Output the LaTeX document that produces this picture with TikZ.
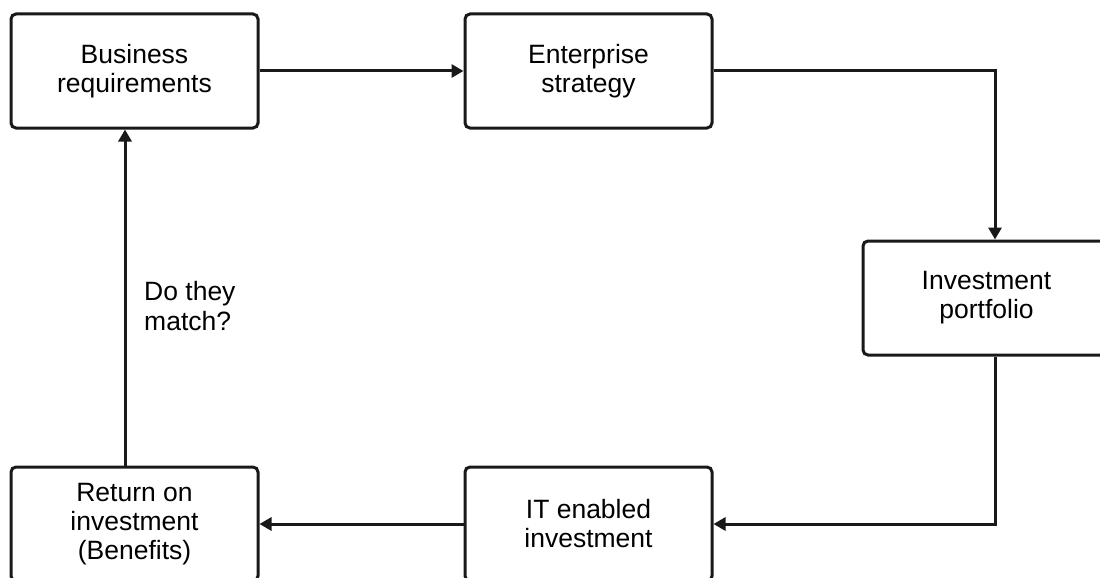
\documentclass[tikz,border=0pt]{standalone}
\usepackage{fontspec}
\setmainfont{Liberation Sans}
\usetikzlibrary{arrows.meta}

\begin{document}
\begin{tikzpicture}[x=1pt,y=-1pt,
  box/.style={draw=black!90, line width=3pt, rounded corners=5pt,
    minimum width=247pt, minimum height=114pt, align=center,
    inner sep=0pt, font=\fontsize{26.5}{29}\selectfont},
  arr/.style={draw=black!90, line width=3pt,
    -{Triangle[length=12pt,width=13pt]}},
  lab/.style={font=\fontsize{26.5}{30}\selectfont, align=left, inner sep=0pt}]
  \useasboundingbox (0,0) rectangle (1100,578);

  % process boxes
  \node[box] (req) at (134.5,71)  {Business\\requirements};
  \node[box] (str) at (588.5,71)  {Enterprise\\strategy};
  \node[box] (pf)  at (986.5,298) {Investment\\portfolio};
  \node[box] (roi) at (134.5,524) {Return on\\investment\\(Benefits)};
  \node[box] (it)  at (588.5,524) {IT enabled\\investment};

  % flow between the boxes
  \draw[arr] (req.east) -- (str.west);
  \draw[arr] (str.east) -| ([xshift=8.5pt]pf.north);
  \draw[arr] ([xshift=8.5pt]pf.south) |- (it.east);
  \draw[arr] (it.west) -- (roi.east);
  \draw[arr] ([xshift=-9.5pt]roi.north) -- ([xshift=-9.5pt]req.south);

  % feedback question
  \node[lab, anchor=north west] (q) at (144,281) {Do they\\match?};
\end{tikzpicture}
\end{document}
